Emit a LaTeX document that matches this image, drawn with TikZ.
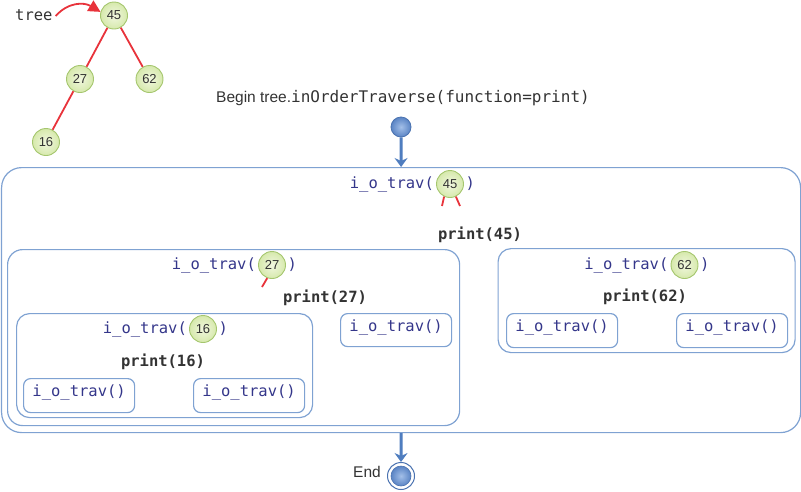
\documentclass[tikz,border=0pt]{standalone}
\usepackage{fontspec}
\setmainfont{Liberation Sans}
\setmonofont{DejaVu Sans Mono}
\usetikzlibrary{arrows.meta}
\definecolor{boxblue}{HTML}{7FA2D2}
\definecolor{navy}{HTML}{34368A}
\definecolor{txtgray}{HTML}{333333}
\definecolor{redline}{HTML}{E8333B}
\definecolor{arrowblue}{HTML}{4F7DBF}
\definecolor{greenin}{HTML}{F1F7DF}
\definecolor{greenout}{HTML}{D6E9AC}
\definecolor{greenedge}{HTML}{A5C66E}
\definecolor{bluein}{HTML}{A3BFE8}
\definecolor{blueout}{HTML}{5A84C4}
\definecolor{blueedge}{HTML}{4A72B0}
\tikzset{
  treenode/.style={circle, draw=greenedge, line width=0.9pt, inner color=greenin, outer color=greenout,
    minimum size=27pt, inner sep=0pt, font=\fontsize{13}{15}\selectfont, text=txtgray},
  frame/.style={draw=boxblue, line width=1.2pt, anchor=north west, inner sep=0pt},
  monotxt/.style={font=\ttfamily\fontsize{15.5}{18}\selectfont},
  calltxt/.style={monotxt, text=navy, inner sep=0pt},
  printtxt/.style={font=\ttfamily\bfseries\fontsize{15.5}{18}\selectfont, text=txtgray, inner sep=0pt},
  smallbox/.style={frame, rounded corners=7pt, text=navy, font=\ttfamily\fontsize{15.5}{18}\selectfont,
    align=center, text height=11.8pt, text depth=9.5pt},
  rededge/.style={draw=redline, line width=1.8pt},
  flow/.style={draw=arrowblue, line width=3pt, -{Stealth[length=9pt, width=13pt, inset=3pt]}},
}
\begin{document}
\begin{tikzpicture}[x=1pt, y=-1pt]
\useasboundingbox (0,0) rectangle (801,491);

% ---- tree ----
\node[treenode] (t45) at (114,15.5) {45};
\node[treenode] (t27) at (80,79) {27};
\node[treenode] (t62) at (149.5,79) {62};
\node[treenode] (t16) at (46,142) {16};
\draw[rededge] (t45) -- (t27);
\draw[rededge] (t45) -- (t62);
\draw[rededge] (t27) -- (t16);
\node[monotxt, text=txtgray, anchor=west, inner sep=0pt] (treelbl) at (15,15) {tree};
\draw[draw=redline, line width=1.8pt, -{Triangle[length=12pt, width=12pt]}]
  (treelbl.east) ++(3,1) coordinate (tstart) .. controls (68,2) and (84,2) .. (t45.165);

% ---- begin ----
\node[inner sep=0pt, text=txtgray] (begin) at (403,98)
  {\fontsize{15.5}{18}\selectfont Begin tree.\texttt{\fontsize{16}{18}\selectfont inOrderTraverse(function=print)}};
\node[circle, draw=blueedge, line width=0.8pt, inner color=bluein, outer color=blueout,
  minimum size=20pt, inner sep=0pt] (start) at (401,127) {};

% ---- frames ----
\node[frame, rounded corners=20pt, minimum width=799pt, minimum height=265pt] (outer) at (1,167) {};
\node[frame, rounded corners=15pt, minimum width=452pt, minimum height=176pt] (b27) at (7,249) {};
\node[frame, rounded corners=13pt, minimum width=297pt, minimum height=104pt] (b62) at (497.5,248) {};
\node[frame, rounded corners=13pt, minimum width=296pt, minimum height=104pt] (b16) at (16,313) {};

\node[smallbox, minimum width=111pt, minimum height=34pt] (s16l) at (23,378) {i\_o\_trav()};
\node[smallbox, minimum width=111pt, minimum height=34pt] (s16r) at (193,378) {i\_o\_trav()};
\node[smallbox, minimum width=111pt, minimum height=33pt] (s27r) at (340,313) {i\_o\_trav()};
\node[smallbox, minimum width=111pt, minimum height=34pt] (s62l) at (506,313) {i\_o\_trav()};
\node[smallbox, minimum width=111pt, minimum height=34pt] (s62r) at (676,313) {i\_o\_trav()};

% ---- titles ----
\node[treenode] (c45) at (450,184) {45};
\node[calltxt, anchor=east] (l45) at ([xshift=-2pt]c45.west) {i\_o\_trav(};
\node[calltxt, anchor=west] (r45) at ([xshift=1.5pt]c45.east) {)};
\coordinate (e45a) at (442,206);
\coordinate (e45b) at (460,206);
\draw[rededge] (c45.245) -- (e45a);
\draw[rededge] (c45.295) -- (e45b);
\node[printtxt] (p45) at (480,235) {print(45)};

\node[treenode] (c27) at (272,265) {27};
\node[calltxt, anchor=east] (l27) at ([xshift=-2pt]c27.west) {i\_o\_trav(};
\node[calltxt, anchor=west] (r27) at ([xshift=1.5pt]c27.east) {)};
\coordinate (e27) at (262,287);
\draw[rededge] (c27.250) -- (e27);
\node[printtxt] (p27) at (325,298) {print(27)};

\node[treenode] (c62) at (684.5,265) {62};
\node[calltxt, anchor=east] (l62) at ([xshift=-2pt]c62.west) {i\_o\_trav(};
\node[calltxt, anchor=west] (r62) at ([xshift=1.5pt]c62.east) {)};
\node[printtxt] (p62) at (645,297) {print(62)};

\node[treenode] (c16) at (203,329) {16};
\node[calltxt, anchor=east] (l16) at ([xshift=-2pt]c16.west) {i\_o\_trav(};
\node[calltxt, anchor=west] (r16) at ([xshift=1.5pt]c16.east) {)};
\node[printtxt] (p16) at (163,362) {print(16)};

% ---- end ----
\node[circle, draw=blueedge, line width=1pt, fill=white, minimum size=27pt, inner sep=0pt] (endring) at (401,476) {};
\node[circle, draw=blueedge, line width=0.6pt, inner color=bluein, outer color=blueout,
  minimum size=20pt, inner sep=0pt] (enddot) at (endring.center) {};
\node[anchor=east, inner sep=0pt, text=txtgray, font=\fontsize{15.5}{18}\selectfont] (endlbl) at (381,472) {End};

% ---- flow arrows ----
\draw[flow] (start.south) -- (outer.north);
\draw[flow] (outer.south) -- (endring.north);
\end{tikzpicture}
\end{document}
